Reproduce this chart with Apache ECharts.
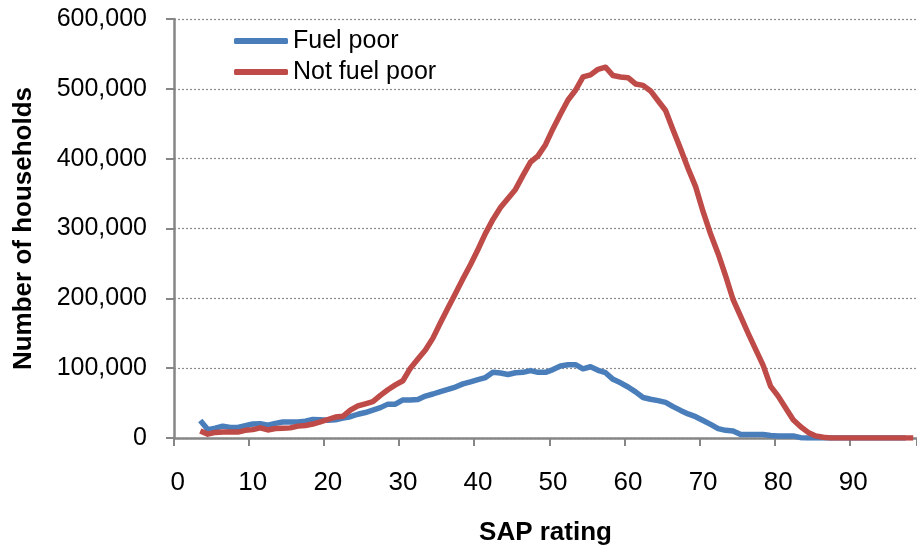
<!DOCTYPE html>
<html>
<head>
<meta charset="utf-8">
<script src="https://cdn.jsdelivr.net/npm/echarts@6/dist/echarts.min.js"></script>
<style>
  html, body { margin: 0; padding: 0; background: #fff; }
  #chart { width: 917px; height: 548px; }
</style>
</head>
<body>
<div id="chart"></div>
<script>
// SAP rating categories 0..98
var sapRatings = [];
for (var i = 0; i <= 98; i++) sapRatings.push(String(i));

// households per SAP rating, starting at rating 3 (0-2 empty)
var fuelPoor = [
  null, null, null,
  25000, 12000, 14000, 17000, 15000, 15000, 17500, 20000, 20500, 18500,
  21000, 23000, 23000, 23000, 24000, 26500, 26000, 25500, 26000, 28500,
  30500, 34000, 36500, 40000, 43500, 48500, 48500, 54500, 54500, 55000,
  60000, 63000, 66500, 69500, 73000, 77500, 80500, 83500, 86500, 94000,
  93000, 91000, 93500, 94000, 96500, 94000, 94000, 98000, 103000, 105000,
  105000, 99000, 102000, 97000, 93500, 84000, 79000, 73000, 66000, 58000,
  55500, 53500, 51000, 45000, 39500, 34500, 30500, 25000, 19500, 13500,
  11000, 10000, 5000, 5000, 5000, 5000, 3500, 3000, 3000, 3000,
  500, 0, 0, 0, 0, 0, 0, 0, 0, 0, 0, 0, 0, 0, 0
];
var notFuelPoor = [
  null, null, null,
  10000, 5500, 8000, 8500, 8500, 8500, 11000, 12000, 14500, 11500,
  13500, 14000, 14500, 17000, 18000, 20000, 23000, 26500, 30000, 31000,
  40000, 46000, 49000, 52000, 61000, 69000, 76000, 82000, 100000, 113000,
  126000, 143000, 165000, 186000, 207000, 228000, 248000, 270000, 293000, 313000,
  330000, 343000, 356000, 376000, 395000, 404000, 420000, 443000, 464000, 484000,
  498000, 517000, 520000, 528000, 531000, 519000, 517000, 516000, 507000, 505000,
  497000, 483000, 469000, 441000, 414000, 386000, 360000, 324000, 292000, 264000,
  232000, 198000, 174000, 150000, 127000, 104000, 74000, 60000, 43000, 26000,
  16000, 8000, 3000, 1000, 0, 0, 0, 0, 0, 0, 0, 0, 0, 0, 0, 0
];

var seriesNames = ["Fuel poor", "Not fuel poor"];
var seriesColors = ["#4a7ebb", "#be4b48"];

var font = "Liberation Sans, Arial, sans-serif";

var chart = echarts.init(document.getElementById("chart"), null, { renderer: "canvas" });
chart.setOption({
  animation: false,
  backgroundColor: "#fff",
  grid: { left: 174, top: 19, right: 0, bottom: 110, containLabel: false, outerBoundsMode: "none" },
  legend: {
    orient: "vertical",
    left: 234,
    top: 28,
    padding: 0,
    icon: "roundRect",
    itemWidth: 54,
    itemHeight: 6,
    itemGap: 5,
    textStyle: { fontFamily: font, fontSize: 25, color: "#000", lineHeight: 26 },
    data: seriesNames
  },
  xAxis: {
    type: "category",
    data: sapRatings,
    boundaryGap: true,
    name: "SAP rating",
    nameLocation: "middle",
    nameGap: 82,
    nameTextStyle: { fontFamily: font, fontSize: 26, fontWeight: "bold", color: "#000" },
    axisLine: { lineStyle: { color: "#868686", width: 2.5 } },
    axisTick: { show: true, interval: 9, length: 8, lineStyle: { color: "#868686", width: 2 } },
    axisLabel: { interval: 9, margin: 32, fontFamily: font, fontSize: 26, color: "#000" },
    splitLine: { show: false }
  },
  yAxis: {
    type: "value",
    min: 0,
    max: 600000,
    interval: 100000,
    name: "Number of households",
    nameLocation: "middle",
    nameRotate: 90,
    nameGap: 137,
    nameTextStyle: { fontFamily: font, fontSize: 26, fontWeight: "bold", color: "#000" },
    axisLine: { show: true, lineStyle: { color: "#868686", width: 2.5 } },
    axisTick: { show: true, length: 8, lineStyle: { color: "#868686", width: 2 } },
    axisLabel: {
      margin: 27,
      fontFamily: font,
      fontSize: 25,
      color: "#000",
      formatter: function (v) { return v.toLocaleString("en-US"); }
    },
    splitLine: { show: true, lineStyle: { color: "#8c8c8c", width: 1.2, type: [2, 2] } }
  },
  series: [
    {
      name: seriesNames[0],
      type: "line",
      data: fuelPoor,
      symbol: "none",
      color: seriesColors[0],
      lineStyle: { width: 5.5, color: seriesColors[0], join: "round" }
    },
    {
      name: seriesNames[1],
      type: "line",
      data: notFuelPoor,
      symbol: "none",
      color: seriesColors[1],
      lineStyle: { width: 5.5, color: seriesColors[1], join: "round" }
    }
  ]
});
</script>
</body>
</html>
